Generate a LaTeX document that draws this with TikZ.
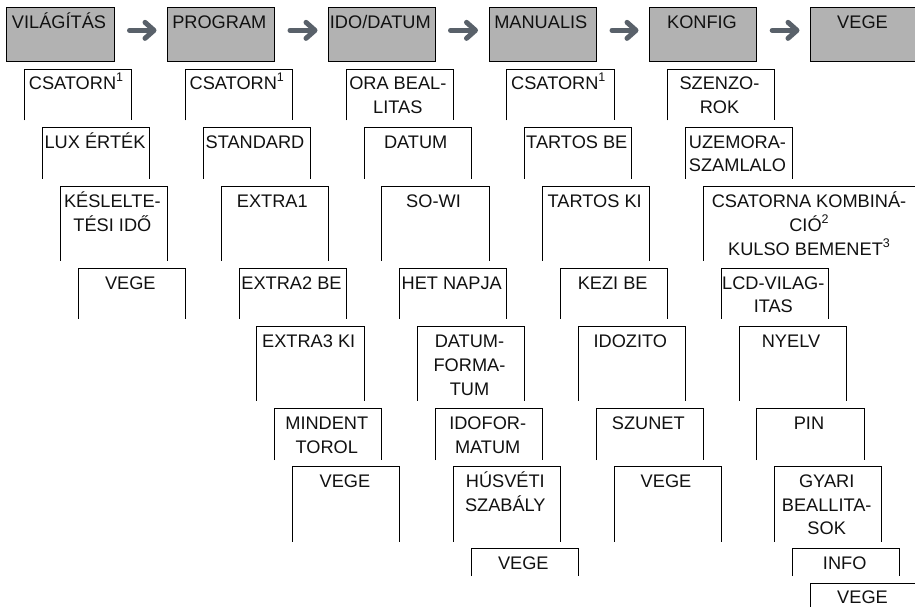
\documentclass[tikz,border=0pt]{standalone}
\usepackage{fontspec}
\setmainfont{Liberation Sans}
\usetikzlibrary{arrows.meta}
\definecolor{boxgray}{HTML}{B2B2B2}
\definecolor{arrowgray}{HTML}{59616A}
\definecolor{inkblack}{HTML}{111111}
\newcommand{\sups}[1]{\raisebox{8pt}{\fontsize{12.5}{12.5}\selectfont #1}}
\newcommand{\linestack}[1]{\vtop{\baselineskip=23.8pt\lineskiplimit=-20pt\halign{\hfil##\hfil\cr #1\crcr}}}
\tikzset{
  x=1pt,y=-1pt,
  labeltext/.style={anchor=base,inner sep=0pt,text=inkblack,
    font=\fontsize{18.2}{23.8}\selectfont},
  headbox/.style={draw=black,line width=1pt,fill=boxgray,inner sep=0pt,outer sep=0pt},
  openbox/.style={inner sep=0pt,outer sep=0pt},
  openedge/.style={draw=black,line width=1pt},
  flowarrow/.style={draw=arrowgray,line width=5pt,line cap=round,
    -{Straight Barb[length=9pt,width=16pt,line width=5pt,round]}},
}
% name, x1, x2, text centre, baseline, text
\newcommand{\headnode}[6]{%
  \node[headbox,minimum width=#3-#2,minimum height=54.5pt] (#1) at ({(#2+#3)/2},34.75) {};
  \node[labeltext] (#1-text) at (#4,#5) {\linestack{#6}};}
% name, x1, x2, top, bottom, text centre, baseline, text
\newcommand{\menunode}[8]{%
  \node[openbox,minimum width=#3-#2,minimum height=#5-#4] (#1) at ({(#2+#3)/2},{(#4+#5)/2}) {};
  \draw[openedge] (#1.south west) -- (#1.north west) -- (#1.north east) -- (#1.south east);
  \node[labeltext] (#1-text) at (#6,#7) {\linestack{#8}};}
\begin{document}
\begin{tikzpicture}
\path[use as bounding box,clip] (0,0) rectangle (915,607);
\fill[white] (0,0) rectangle (915,607);
\headnode{h1}{6.5}{114}{59}{28.3}{VILÁGÍTÁS}
\headnode{h2}{167.5}{274.5}{219.3}{28.3}{PROGRAM}
\headnode{h3}{328.5}{435}{380.3}{28.3}{IDO/DATUM}
\headnode{h4}{489}{596.5}{540.8}{28.3}{MANUALIS}
\headnode{h5}{649.5}{756.7}{702}{28.3}{KONFIG}
\headnode{h6}{810.5}{925}{862.5}{28.3}{VEGE}
\foreach \a/\b in {h1/h2,h2/h3,h3/h4,h4/h5,h5/h6}
  \draw[flowarrow] ([xshift=15.5pt,yshift=4.4pt]\a.east) -- ([xshift=-11pt,yshift=4.4pt]\b.west);
% column 1
\menunode{a1}{24.5}{131.5}{69.5}{120.5}{76}{90}{CSATORN\sups{1}}
\menunode{a2}{42.5}{149.5}{127.5}{178.5}{95}{148}{LUX ÉRTÉK}
\menunode{a3}{60.5}{167.5}{186.5}{260.5}{112.4}{207.5}{KÉSLELTE-\cr TÉSI IDŐ}
\menunode{a4}{78.5}{185.5}{268.5}{318.7}{130.3}{289}{VEGE}
% column 2
\menunode{b1}{185.5}{292.5}{69.5}{120.5}{236.8}{90}{CSATORN\sups{1}}
\menunode{b2}{203.5}{310.5}{127.5}{178.5}{255}{148}{STANDARD}
\menunode{b3}{221.5}{328.5}{186.5}{260.5}{272.3}{207.5}{EXTRA1}
\menunode{b4}{239.5}{346.5}{268.5}{318.7}{291.5}{289}{EXTRA2 BE}
\menunode{b5}{256.5}{364.5}{326.3}{400.5}{308.7}{347.5}{EXTRA3 KI}
\menunode{b6}{274.5}{381.5}{408.3}{460}{326.8}{429.3}{MINDENT\cr TOROL}
\menunode{b7}{292.5}{399.5}{466.3}{541.5}{345}{487.3}{VEGE}
% column 3
\menunode{c1}{346.5}{453.5}{69.5}{120.5}{397.8}{90}{ORA BEAL-\cr LITAS}
\menunode{c2}{364.5}{471.5}{127.5}{178.5}{415.7}{148}{DATUM}
\menunode{c3}{381.5}{489}{186.5}{260.5}{433.5}{207.5}{SO-WI}
\menunode{c4}{399.5}{506.5}{268.5}{318.7}{451.7}{289}{HET NAPJA}
\menunode{c5}{417.5}{524.5}{326.3}{400.5}{469.5}{347.5}{DATUM-\cr FORMA-\cr TUM}
\menunode{c6}{435.5}{542.5}{408.3}{460}{487.7}{429.3}{IDOFOR-\cr MATUM}
\menunode{c7}{453.5}{560.5}{466.3}{541.5}{505.3}{487.3}{HÚSVÉTI\cr SZABÁLY}
\menunode{c8}{471.5}{578.5}{548}{576}{523.3}{569.3}{VEGE}
% column 4
\menunode{d1}{506.5}{614.5}{69.5}{120.5}{558.3}{90}{CSATORN\sups{1}}
\menunode{d2}{524.5}{631.5}{127.5}{178.5}{576.8}{148}{TARTOS BE}
\menunode{d3}{542.5}{649.5}{186.5}{260.5}{594.7}{207.5}{TARTOS KI}
\menunode{d4}{560.5}{667.5}{268.5}{318.7}{612.7}{289}{KEZI BE}
\menunode{d5}{578.5}{685.5}{326.3}{400.5}{630.3}{347.5}{IDOZITO}
\menunode{d6}{596.5}{703.5}{408.3}{460}{648.3}{429.3}{SZUNET}
\menunode{d7}{614.5}{721.5}{466.3}{541.5}{666}{487.3}{VEGE}
% column 5
\menunode{e1}{667.5}{774.5}{69.5}{120.5}{719.5}{90}{SZENZO-\cr ROK}
\menunode{e2}{685.5}{792.5}{127.5}{178.5}{737.5}{148}{UZEMORA-\cr SZAMLALO}
\menunode{e3}{703.5}{925}{186.5}{260.5}{809}{207.5}{CSATORNA KOMBINÁ-\cr CIÓ\sups{2}\cr KULSO BEMENET\sups{3}}
\menunode{e4}{721.5}{828.5}{268.5}{318.7}{773.3}{289}{LCD-VILAG-\cr ITAS}
\menunode{e5}{739.5}{846.7}{326.3}{400.5}{791}{347.5}{NYELV}
\menunode{e6}{756.7}{864.5}{408.3}{460}{809}{429.3}{PIN}
\menunode{e7}{774.5}{881.5}{466.3}{541.5}{826.7}{487.3}{GYARI\cr BEALLITA-\cr SOK}
\menunode{e8}{792.5}{899.5}{548}{576}{844.7}{569.3}{INFO}
\menunode{e9}{810.5}{925}{583.3}{615}{862.5}{603.3}{VEGE}
\end{tikzpicture}
\end{document}
